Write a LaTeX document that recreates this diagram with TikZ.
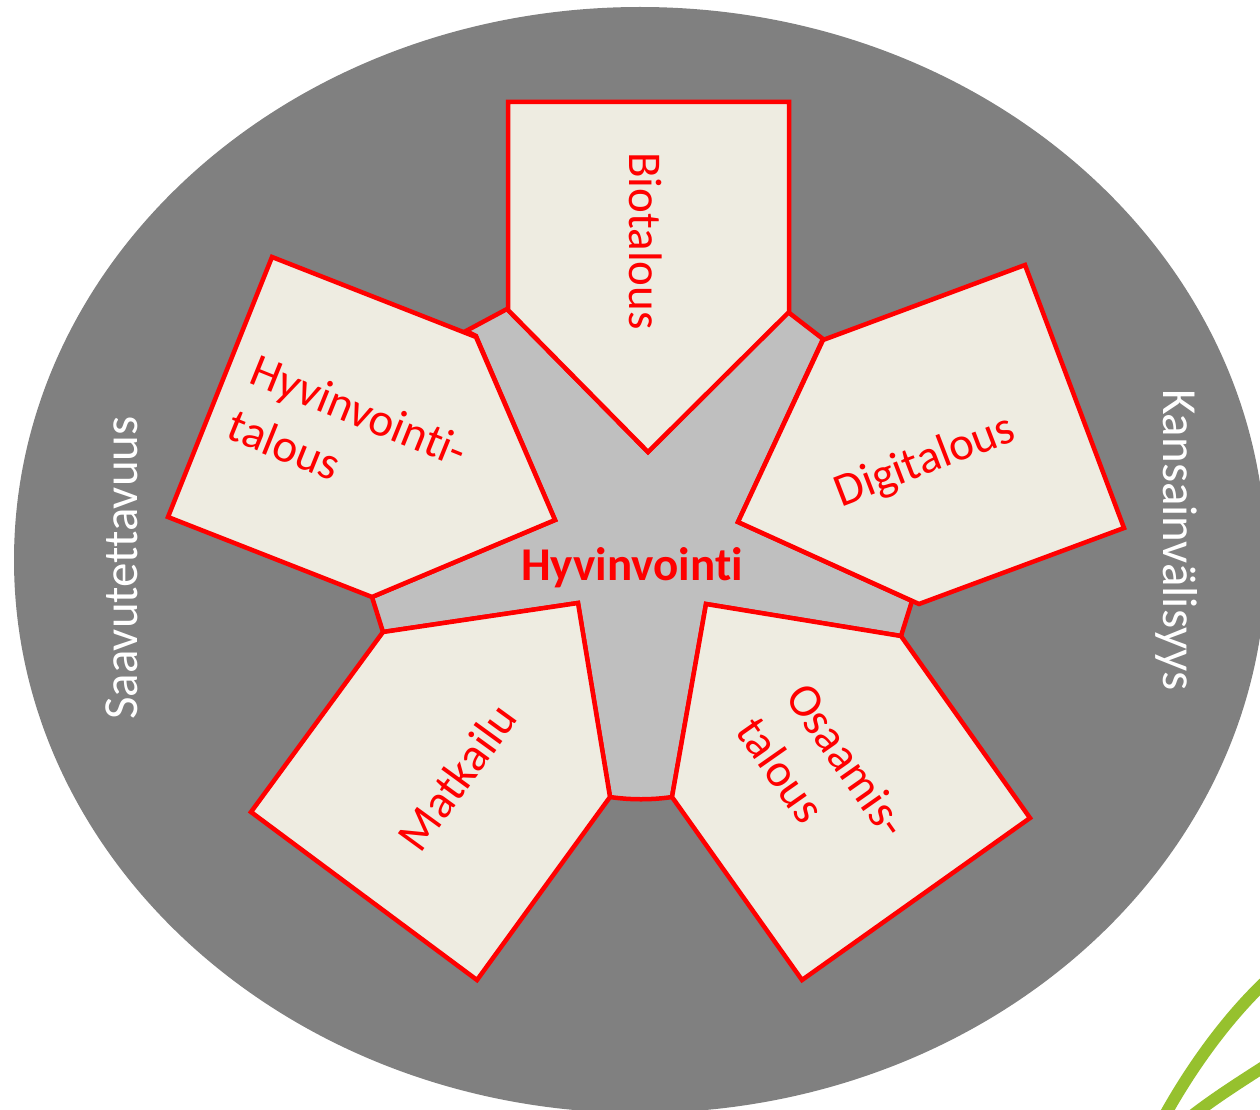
\documentclass[tikz,border=0pt]{standalone}
\usepackage{fontspec}
\setmainfont{Carlito}[Ligatures=NoCommon]
\usepackage{xcolor}
\usepackage{tikz}
\usetikzlibrary{positioning}

\definecolor{ringgray}{HTML}{808080}
\definecolor{hubgray}{HTML}{BFBFBF}
\definecolor{sectorfill}{HTML}{EEECE1}
\definecolor{leafgreen}{HTML}{96C12E}

\begin{document}
\begin{tikzpicture}[
        x=1pt, y=-1pt,
        ring/.style={fill=ringgray},
        hub/.style={draw=red, fill=hubgray, line width=4.5pt, line join=miter},
        sector/.style={draw=red, fill=sectorfill, line width=4.5pt, line join=miter},
        sectorlabel/.style={text=red, font=\fontsize{47}{60}\selectfont, align=left, inner sep=0pt},
        hublabel/.style={text=red, font=\bfseries\fontsize{47}{57}\selectfont, inner sep=0pt},
        ringlabel/.style={text=white, font=\fontsize{49}{59}\selectfont, inner sep=0pt},
        leaf/.style={draw=leafgreen, line width=12pt}
    ]
    \useasboundingbox (0,0) rectangle (1260,1110);
    \clip (0,0) rectangle (1260,1110);
    \fill [white] (0,0) rectangle (1260,1110);

    % Outer ring
    \fill [ring] (640,560) ellipse [x radius=626, y radius=553];

    % Green leaves in the corner
    \draw [leaf] (1165,1115) .. controls (1190,1070) and (1225,1020) .. (1265,982);
    \draw [leaf] (1193,1115) .. controls (1215,1098) and (1240,1082) .. (1265,1066);

    % Hub behind the sectors
    \filldraw [hub] (507,309) -- (648,452) -- (788,312) -- (823,339) -- (738,522)
        -- (912,601) -- (901,636) -- (706,604) -- (672,797)
        .. controls (652,800) and (630,800) .. (610,797)
        -- (578,603) -- (383,632) -- (372,597) -- (555,520) -- (476,336)
        -- (466,331) -- cycle;

    % Sectors
    \filldraw [sector] (508,102) -- (789,102) -- (789,312) -- (648,452) -- (508,310) -- cycle;
    \filldraw [sector] (823,340) -- (1025,265) -- (1124,528) -- (919,604) -- (738,522) -- cycle;
    \filldraw [sector] (706,604) -- (901,636) -- (1030,818) -- (802,980) -- (672,797) -- cycle;
    \filldraw [sector] (578,603) -- (610,797) -- (477,980) -- (251,812) -- (383,632) -- cycle;
    \filldraw [sector] (272,257) -- (476,337) -- (555,520) -- (372,597) -- (168,517) -- cycle;

    % Sector labels
    \node [sectorlabel, rotate=-90] (bio) at (646,241) {Biotalous};
    \node [sectorlabel, rotate=21] (digi) at (925,462) {Digitalous};
    \node [sectorlabel, rotate=-55] (osaamis) at (823,777) {Osaamis-\\talous};
    \node [sectorlabel, rotate=54] (matkailu) at (457,777) {Matkailu};
    \node [sectorlabel, rotate=-22] (hyvtalous) at (348,438) {Hyvinvointi-\\talous};

    % Centre and ring labels
    \node [hublabel] (hyvinvointi) at (632,568) {Hyvinvointi};
    \node [ringlabel, rotate=90] (saav) at (122,568) {Saavutettavuus};
    \node [ringlabel, rotate=-90] (kansa) at (1177,540) {Kansainvälisyys};

\end{tikzpicture}
\end{document}
